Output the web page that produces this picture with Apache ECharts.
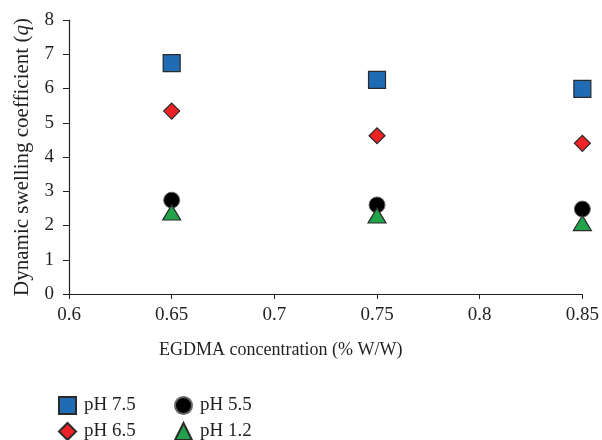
<!DOCTYPE html>
<html><head><meta charset="utf-8">
<script src="https://cdn.jsdelivr.net/npm/echarts@6/dist/echarts.min.js"></script>
<style>html,body{margin:0;padding:0;background:#fff}#c{width:602px;height:440px}</style>
</head><body><div id="c"></div>
<script>
const concentrations = [0.65, 0.75, 0.85];
const ph75 = [6.74, 6.25, 5.99];
const ph65 = [5.34, 4.62, 4.40];
const ph55 = [2.74, 2.60, 2.48];
const ph12 = [2.38, 2.29, 2.07];
const seriesNames = ['pH 7.5', 'pH 6.5', 'pH 5.5', 'pH 1.2'];
const xTicks = [0.6, 0.65, 0.7, 0.75, 0.8, 0.85];

const font = 'Liberation Serif';
const ink = '#231f20';
const pts = v => concentrations.map((x, i) => [x, v[i]]);
const legendPos = [[58, 396], [58, 422], [174, 396], [174, 422]];
const legends = seriesNames.map((n, i) => ({
  data: [n], left: legendPos[i][0], top: legendPos[i][1], padding: 0,
  itemWidth: 17, itemHeight: 17, itemGap: 0,
  textStyle: {fontFamily: font, fontSize: 19, color: ink, lineHeight: 17, padding: [0, 0, 0, 3]}
}));
const chart = echarts.init(document.getElementById('c'), null, {renderer: 'canvas'});
chart.setOption({
  animation: false,
  textStyle: {fontFamily: font, color: ink},
  grid: {left: 69, right: 19, top: 20, bottom: 146, containLabel: false},
  xAxis: {
    type: 'value', min: 0.6, max: 0.85, interval: 0.05,
    name: 'EGDMA concentration (% W/W)', nameLocation: 'middle', nameGap: 47,
    nameTextStyle: {fontFamily: font, fontSize: 18, color: ink, padding: [0, 90, 0, 0]},
    axisLine: {lineStyle: {color: ink, width: 1.2}},
    axisTick: {show: true, length: 5, inside: false, lineStyle: {color: ink}},
    axisLabel: {fontFamily: font, fontSize: 19, color: ink, margin: 12,
      formatter: v => { const t = xTicks.find(k => Math.abs(k - v) < 1e-9); return t === undefined ? '' : String(t); }},
    splitLine: {show: false}
  },
  yAxis: {
    type: 'value', min: 0, max: 8, interval: 1,
    name: 'Dynamic swelling coefficient ({i|q})', nameLocation: 'middle', nameGap: 36,
    nameTextStyle: {fontFamily: font, fontSize: 21, color: ink,
      rich: {i: {fontStyle: 'italic', fontFamily: font, fontSize: 21, color: ink}}},
    axisLine: {show: true, lineStyle: {color: ink, width: 1.2}},
    axisTick: {show: true, length: 6, lineStyle: {color: ink}},
    axisLabel: {fontFamily: font, fontSize: 19, color: ink, margin: 15},
    splitLine: {show: false}
  },
  legend: legends,
  series: [
    {name: seriesNames[0], type: 'scatter', symbol: 'rect', symbolSize: 17, data: pts(ph75),
     itemStyle: {color: '#1f6cb4', borderColor: '#2a2a2a', borderWidth: 1.2, opacity: 1}},
    {name: seriesNames[1], type: 'scatter', symbol: 'diamond', symbolSize: 16, data: pts(ph65),
     itemStyle: {color: '#ec2227', borderColor: '#2a2a2a', borderWidth: 1.2, opacity: 1}},
    {name: seriesNames[2], type: 'scatter', symbol: 'circle', symbolSize: 16, data: pts(ph55),
     itemStyle: {color: '#000000', borderColor: '#666666', borderWidth: 1, opacity: 1}},
    {name: seriesNames[3], type: 'scatter', symbol: 'triangle', symbolSize: [18, 15], data: pts(ph12),
     itemStyle: {color: '#21a24b', borderColor: '#2a2a2a', borderWidth: 1.2, opacity: 1}}
  ]
});
</script></body></html>
